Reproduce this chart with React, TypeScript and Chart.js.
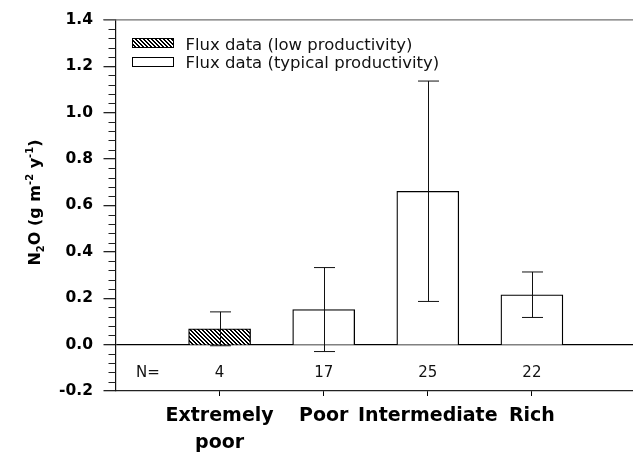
import React, { useEffect, useRef } from 'react';
import { Chart, registerables } from 'chart.js';

Chart.register(...registerables);

// ---- data ----
const categories: (string | string[])[] = ['', ['Extremely', 'poor'], 'Poor', 'Intermediate', 'Rich', ''];
const lowProductivity: (number | null)[] = [null, 0.068, null, null, null, null];
const typicalProductivity: (number | null)[] = [null, null, 0.151, 0.661, 0.215, null];
const errorHalfWidths: (number | null)[] = [null, 0.073, 0.181, 0.475, 0.098, null];
const sampleSizes: string[] = ['', '4', '17', '25', '22', ''];
const seriesNames: string[] = ['Flux data (low productivity)', 'Flux data (typical productivity)'];
const yMin = -0.2;
const yMax = 1.4;
const yMajorStep = 0.2;
const yMinorStep = 0.04;

function makeHatch(): CanvasPattern | string {
  const s = 4;
  const c = document.createElement('canvas');
  c.width = s;
  c.height = s;
  const g = c.getContext('2d');
  if (!g) return '#888';
  g.fillStyle = '#fff';
  g.fillRect(0, 0, s, s);
  g.fillStyle = '#000';
  for (let i = 0; i < s; i++) {
    g.fillRect(i, i, 1, 1);
    g.fillRect((i + 1) % s, i, 1, 1);
  }
  return g.createPattern(c, 'repeat') || '#888';
}

export default function App() {
  const ref = useRef<HTMLCanvasElement | null>(null);

  useEffect(() => {
    const canvas = ref.current;
    if (!canvas) return;
    const hatch = makeHatch();

    const decorations = {
      id: 'decorations',
      afterDatasetsDraw(chart: any) {
        const { ctx, scales } = chart;
        const xs = scales.x;
        const ys = scales.y;
        ctx.save();
        ctx.strokeStyle = '#111';
        ctx.lineWidth = 1;
        for (let i = 0; i < categories.length; i++) {
          const err = errorHalfWidths[i];
          const v = lowProductivity[i] ?? typicalProductivity[i];
          if (err == null || v == null) continue;
          const x = Math.round(xs.getPixelForValue(i)) + 0.5;
          const yt = ys.getPixelForValue(v + err);
          const yb = ys.getPixelForValue(v - err);
          ctx.beginPath();
          ctx.moveTo(x, yt); ctx.lineTo(x, yb);
          ctx.moveTo(x - 10.5, yt); ctx.lineTo(x + 10.5, yt);
          ctx.moveTo(x - 10.5, yb); ctx.lineTo(x + 10.5, yb);
          ctx.stroke();
        }
        ctx.restore();
      },
      afterDraw(chart: any) {
        const { ctx, chartArea, scales } = chart;
        const xs = scales.x;
        const ys = scales.y;
        ctx.save();
        // top frame line
        ctx.strokeStyle = '#707070';
        ctx.lineWidth = 1.3;
        ctx.beginPath();
        ctx.moveTo(chartArea.left - 12, chartArea.top);
        ctx.lineTo(chartArea.right + 5, chartArea.top);
        ctx.stroke();
        // minor ticks
        ctx.strokeStyle = '#222';
        ctx.lineWidth = 1;
        const n = Math.round((yMax - yMin) / yMinorStep);
        const per = Math.round(yMajorStep / yMinorStep);
        for (let k = 0; k <= n; k++) {
          if (k % per === 0) continue;
          const y = Math.round(ys.getPixelForValue(yMin + k * yMinorStep)) + 0.5;
          ctx.beginPath();
          ctx.moveTo(chartArea.left - 7, y);
          ctx.lineTo(chartArea.left, y);
          ctx.stroke();
        }
        // N row
        ctx.fillStyle = '#111';
        ctx.font = '15px "DejaVu Sans"';
        ctx.textAlign = 'center';
        ctx.textBaseline = 'middle';
        ctx.fillText('N=', 148, 373);
        for (let i = 0; i < sampleSizes.length; i++) {
          if (!sampleSizes[i]) continue;
          ctx.fillText(sampleSizes[i], xs.getPixelForValue(i), 373);
        }
        // legend
        ctx.lineWidth = 1;
        ctx.strokeStyle = '#000';
        ctx.fillStyle = hatch as any;
        ctx.fillRect(132.5, 38.5, 41, 9);
        ctx.strokeRect(132.5, 38.5, 41, 9);
        ctx.fillStyle = '#fff';
        ctx.fillRect(132.5, 57.5, 41, 9);
        ctx.strokeRect(132.5, 57.5, 41, 9);
        ctx.fillStyle = '#111';
        ctx.font = '16.5px "DejaVu Sans"';
        ctx.textAlign = 'left';
        ctx.textBaseline = 'alphabetic';
        ctx.fillText(seriesNames[0], 185.5, 50);
        ctx.fillText(seriesNames[1], 185.5, 68);
        // y title
        ctx.translate(40, 202.5);
        ctx.rotate(-Math.PI / 2);
        const parts: { t: string; k: 'n' | 'sub' | 'sup' }[] = [
          { t: 'N', k: 'n' }, { t: '2', k: 'sub' }, { t: 'O (g m', k: 'n' },
          { t: '-2', k: 'sup' }, { t: ' y', k: 'n' }, { t: '-1', k: 'sup' }, { t: ')', k: 'n' },
        ];
        const fontFor = (k: string) => (k === 'n' ? 'bold 16px "DejaVu Sans"' : 'bold 10px "DejaVu Sans"');
        let total = 0;
        for (const p of parts) { ctx.font = fontFor(p.k); total += ctx.measureText(p.t).width; }
        let cx = -total / 2;
        ctx.fillStyle = '#000';
        for (const p of parts) {
          ctx.font = fontFor(p.k);
          const dy = p.k === 'sub' ? 4 : p.k === 'sup' ? -7 : 0;
          ctx.fillText(p.t, cx, dy);
          cx += ctx.measureText(p.t).width;
        }
        ctx.restore();
      },
    };

    const chart = new Chart(canvas, {
      type: 'bar',
      data: {
        labels: categories as any,
        datasets: [
          {
            label: seriesNames[0],
            data: lowProductivity as any,
            backgroundColor: hatch as any,
            borderColor: '#000',
            borderWidth: 1.3,
            barThickness: 62,
          },
          {
            label: seriesNames[1],
            data: typicalProductivity as any,
            backgroundColor: '#fff',
            borderColor: '#000',
            borderWidth: 1.3,
            barThickness: 62,
          },
        ],
      },
      options: {
        responsive: false,
        animation: false,
        devicePixelRatio: 1,
        layout: { padding: { top: 17, right: 1, left: 0, bottom: 0 } },
        datasets: { bar: { grouped: false } } as any,
        plugins: { legend: { display: false }, tooltip: { enabled: false } },
        scales: {
          x: {
            type: 'category',
            offset: false,
            grid: {
              offset: false,
              drawOnChartArea: false,
              drawTicks: true,
              tickLength: 5,
              tickWidth: 1,
              tickColor: (c: any) => (c.index === 0 || c.index === categories.length - 1 ? 'rgba(0,0,0,0)' : '#000'),
            },
            border: { display: true, color: '#222', width: 1.2 },
            ticks: {
              autoSkip: false,
              maxRotation: 0,
              minRotation: 0,
              padding: 7,
              color: '#000',
              font: { family: '"DejaVu Sans"', weight: 'bold', size: 19, lineHeight: 1.4 },
            },
            afterFit: (s: any) => { s.height = 70; },
          },
          y: {
            min: yMin,
            max: yMax,
            grid: {
              drawOnChartArea: true,
              drawTicks: true,
              tickLength: 12,
              tickColor: '#222',
              color: (c: any) => (c.tick && Math.abs(c.tick.value) < 1e-9 ? '#000' : 'rgba(0,0,0,0)'),
              lineWidth: 1.3,
            },
            border: { display: true, color: '#111', width: 1.2 },
            ticks: {
              stepSize: yMajorStep,
              padding: 10.5,
              color: '#000',
              font: { family: '"DejaVu Sans"', weight: 'bold', size: 15.5 },
              callback: (v: any) => (Math.abs(Number(v)) < 1e-9 ? '0.0' : Number(v).toFixed(1)),
            },
            afterFit: (s: any) => { s.width = 115.5; },
          },
        },
      },
      plugins: [decorations],
    });

    return () => chart.destroy();
  }, []);

  return (
    <div style={{ position: 'absolute', left: 0, top: 0, width: 633, height: 461, overflow: 'hidden', background: '#fff' }}>
      <canvas ref={ref} width={643} height={461} style={{ display: 'block' }} />
    </div>
  );
}
